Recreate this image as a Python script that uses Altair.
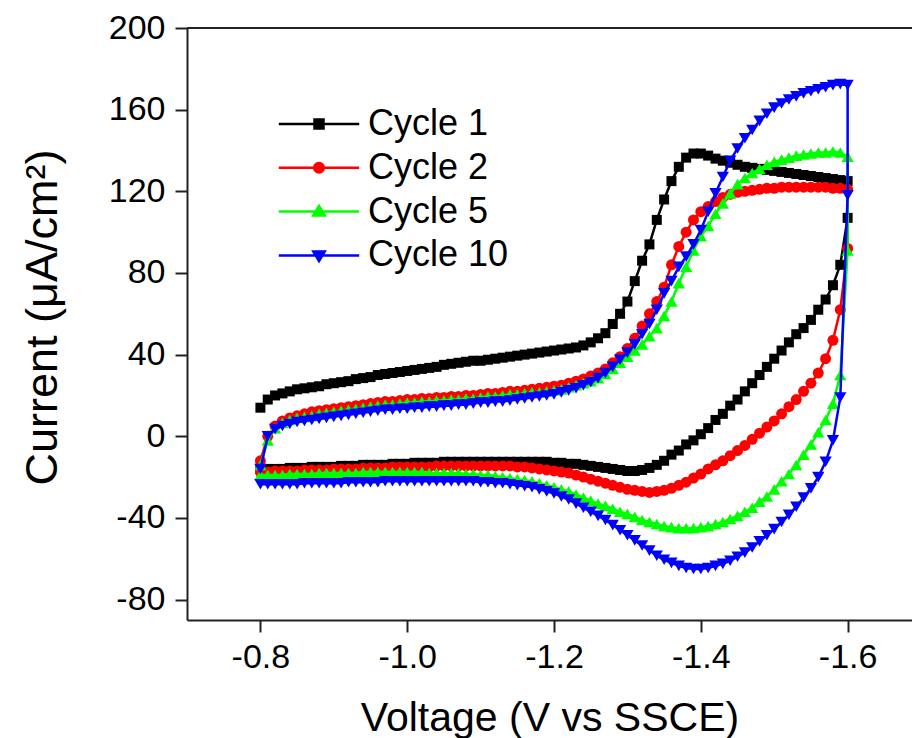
import altair as alt
import pandas as pd

# Voltage grid of the forward scan (V vs SSCE); the reverse scan runs back over it
V_FWD = [-0.80, -0.81, -0.82, -0.83, -0.84, -0.85, -0.86, -0.87, -0.88, -0.89,
         -0.90, -0.91, -0.92, -0.93, -0.94, -0.95, -0.96, -0.97, -0.98, -0.99,
         -1.00, -1.01, -1.02, -1.03, -1.04, -1.05, -1.06, -1.07, -1.08, -1.09,
         -1.10, -1.11, -1.12, -1.13, -1.14, -1.15, -1.16, -1.17, -1.18, -1.19,
         -1.20, -1.21, -1.22, -1.23, -1.24, -1.25, -1.26, -1.27, -1.28, -1.29,
         -1.30, -1.31, -1.32, -1.33, -1.34, -1.35, -1.36, -1.37, -1.38, -1.39,
         -1.40, -1.41, -1.42, -1.43, -1.44, -1.45, -1.46, -1.47, -1.48, -1.49,
         -1.50, -1.51, -1.52, -1.53, -1.54, -1.55, -1.56, -1.57, -1.58, -1.59, -1.60]
V_REV = V_FWD[::-1]

# Current density (uA/cm2)
C1_UP = [14, 18, 20, 21, 22, 23, 23.5, 24, 24.5, 25.5,
         26, 26.5, 27, 28, 28.5, 29, 30, 30.5, 31, 31.5,
         32, 32.5, 33, 33.5, 34, 35, 35.5, 36, 36.5, 37,
         37, 37.5, 38, 38.5, 39, 39.5, 40, 40.5, 41, 41.5,
         42, 42.5, 43, 43.5, 44.5, 46, 48, 50.5, 55, 60,
         66, 76, 86, 94, 106, 116, 125, 132, 136.5, 138.5,
         138.5, 137.5, 136, 135, 134, 133, 132, 131.5, 131, 130.5,
         130, 129.5, 129, 128.5, 128, 127.5, 127, 126.5, 126, 125.5, 125]
C1_DN = [107, 84, 74, 67, 62, 57, 53, 50, 46, 42,
         38, 34, 30, 26, 22, 18, 15, 11, 8, 4,
         1, -2, -4, -7, -9, -12, -14, -15.5, -16.5, -17,
         -17, -16.5, -16, -15.5, -15, -14.5, -14, -13.5, -13.5, -13,
         -13, -12.5, -12.5, -12.5, -12.5, -12.5, -12.5, -12.5, -12.5, -12.5,
         -12.5, -12.5, -12.5, -12.5, -12.5, -12.5, -13, -13, -13, -13,
         -13.5, -13.5, -13.5, -14, -14, -14, -14, -14.5, -14.5, -14.5,
         -15, -15, -15, -15, -15.5, -15.5, -15.5, -16, -16, -16, -16]

C2_UP = [-12, 0, 5, 7.5, 9, 10, 11, 12, 12.5, 13,
         13.5, 14, 14.5, 15, 15.5, 16, 16.5, 17, 17, 17.5,
         18, 18, 18.5, 18.5, 19, 19, 19.5, 19.5, 20, 20,
         20.5, 21, 21, 21.5, 22, 22, 22.5, 23, 23.5, 24,
         24.5, 25, 26, 27, 28, 29.5, 31, 33, 36, 39,
         43, 48, 54, 60, 66, 73, 84, 93, 100, 106,
         110, 112.5, 115, 117, 118.5, 119.5, 120, 120.5, 121, 121.5,
         121.5, 122, 122, 122, 122, 122, 122, 122, 121.5, 121.5, 121]
C2_DN = [92, 62, 47, 38, 31, 26, 22, 18, 14.5, 11,
         7.5, 4.5, 1.5, -1.5, -4.5, -7, -9.5, -12, -14, -16,
         -18.5, -20.5, -22.5, -24, -25.5, -26.5, -27, -27.5, -27, -26.5,
         -26, -25, -24, -23, -22, -21, -20, -19, -18, -17.5,
         -17, -16.5, -16, -15.5, -15, -15, -14.5, -14.5, -14.5, -14.5,
         -14.5, -14.5, -14.5, -14.5, -14.5, -14.5, -14.5, -15, -15, -15,
         -15, -15, -15, -15.5, -15.5, -15.5, -15.5, -16, -16, -16,
         -16, -16.5, -16.5, -16.5, -16.5, -17, -17, -17, -17, -17.5, -17.5]

C5_UP = [-14, -2, 4, 6.5, 8, 9, 9.5, 10, 11, 11.5,
         12, 12.5, 13, 13.5, 14, 14.5, 15, 15.5, 15.5, 16,
         16.5, 16.5, 17, 17, 17.5, 17.5, 18, 18, 18.5, 18.5,
         19, 19.5, 19.5, 20, 20.5, 20.5, 21, 21.5, 21.5, 22,
         22.5, 23, 24, 25, 26, 27, 28.5, 30.5, 33, 36,
         39, 42, 45, 49, 53, 59, 66, 75, 83, 91,
         98, 103, 109, 114, 119, 123.5, 126.5, 129, 131, 133,
         134.5, 135.5, 136.5, 137.5, 138, 138.5, 139, 139, 139.5, 139, 137]
C5_DN = [91, 30, 16, 8, 2, -4, -9, -14, -18.5, -22,
         -26, -29.5, -32, -35, -37, -39, -40.5, -42, -43, -44,
         -44.5, -45, -45, -45, -44.5, -44, -43, -42, -41, -39.5,
         -38, -37, -35.5, -34, -33, -31.5, -30, -28.5, -27, -26,
         -25, -24, -23, -22, -21.5, -21, -20.5, -20, -19.5, -19,
         -19, -18.5, -18.5, -18, -18, -18, -18, -18, -17.5, -17.5,
         -17.5, -17.5, -17.5, -17.5, -17.5, -17.5, -17.5, -18, -18, -18,
         -18, -18, -18, -18.5, -18.5, -18.5, -18.5, -19, -19, -19, -19]

C10_UP = [-16, 0, 3.5, 5, 6, 7, 7.5, 8, 8.5, 9,
          9.5, 10, 10.5, 11, 11.5, 12, 12.5, 13, 13, 13.5,
          13.5, 14, 14, 14.5, 14.5, 15, 15, 15.5, 15.5, 16,
          16.5, 16.5, 17, 17, 17.5, 18, 18.5, 19, 19.5, 20,
          20.5, 21.5, 22.5, 23.5, 25, 26.5, 28.5, 31, 34, 37.5,
          41, 45, 50, 55, 62, 70, 76, 83, 88, 94,
          101, 110, 119, 127, 135, 141, 146, 150, 154.5, 158,
          161, 163, 165, 166.5, 168, 169, 170, 171, 172, 172.5, 172]
C10_DN = [118, 19, -2, -12.5, -20, -25.5, -30, -34.5, -38.5, -42,
          -45.5, -48.5, -51.5, -54.5, -57, -59, -61, -62.5, -63.5, -64.5,
          -65, -65, -64.5, -63.5, -62, -60.5, -58.5, -56, -53.5, -51,
          -48.5, -46, -43.5, -41, -39, -37, -35, -33, -31, -29.5,
          -28, -27, -26, -25, -24.5, -24, -23.5, -23, -23, -22.5,
          -22.5, -22, -22, -22, -22, -22, -22, -22, -22, -22,
          -22, -22, -22, -22, -22.5, -22.5, -22.5, -22.5, -22.5, -23,
          -23, -23, -23, -23, -23, -23.5, -23.5, -23.5, -23.5, -23.5, -23.5]

SERIES = ["Cycle 1", "Cycle 2", "Cycle 5", "Cycle 10"]
UPS = [C1_UP, C2_UP, C5_UP, C10_UP]
DNS = [C1_DN, C2_DN, C5_DN, C10_DN]
COLORS = ["#000000", "#ff0000", "#00ff00", "#0000ff"]
SHAPES = ["square", "circle", "triangle-up", "triangle-down"]
SIZES = [100, 121, 150, 150]
# legend glyphs: a line segment with the series marker in its middle
LEGEND_PATHS = [
    "M-6.7,0H6.7M-0.75,-0.75H0.75V0.75H-0.75Z",
    "M-6.7,0H6.7M0.8,0A0.8,0.8,0,1,1,-0.8,0A0.8,0.8,0,1,1,0.8,0Z",
    "M-6.7,0H6.7M0,-0.95L0.95,0.65H-0.95Z",
    "M-6.7,0H6.7M0,0.95L0.95,-0.65H-0.95Z",
]

rows = []
for name, up, dn in zip(SERIES, UPS, DNS):
    k = 0
    for v, i in zip(V_FWD, up):
        rows.append({"series": name, "idx": k, "V": v, "I": i})
        k += 1
    for v, i in zip(V_REV, dn):
        rows.append({"series": name, "idx": k, "V": v, "I": i})
        k += 1
df = pd.DataFrame(rows)

W, H = 725, 592
FONT = "Liberation Sans"
MINUS = "\u2212"

xscale = alt.Scale(domain=[-1.6877, -0.70], reverse=True, nice=False, zero=False)
yscale = alt.Scale(domain=[-90, 200], nice=False, zero=False)

xenc = alt.X("V:Q", scale=xscale, title="Voltage (V vs SSCE)",
             axis=alt.Axis(values=[-0.8, -1.0, -1.2, -1.4, -1.6],
                           labelExpr=f"replace(format(datum.value, '.1f'), '{MINUS}', '-')",
                           labelFontSize=34, titleFontSize=41, labelPadding=8,
                           titlePadding=24, labelFlush=False,
                           titleFontWeight="normal", grid=False))
yenc = alt.Y("I:Q", scale=yscale, title="Current (\u03bcA/cm\u00b2)",
             axis=alt.Axis(values=[-80, -40, 0, 40, 80, 120, 160, 200],
                           labelExpr=f"replace(format(datum.value, 'd'), '{MINUS}', '-')",
                           labelFontSize=34, titleFontSize=45, labelPadding=10,
                           titlePadding=43, titleY=289, titleAlign="center",
                           titleFontWeight="normal", grid=False))

layers = []
for name, col, shp, sz in zip(SERIES, COLORS, SHAPES, SIZES):
    base = alt.Chart(df).transform_filter(alt.datum.series == name)
    layers.append(base.mark_line(color=col, strokeWidth=2.5, clip=True).encode(
        x=xenc, y=yenc, order="idx:Q"))
    layers.append(base.mark_point(filled=True, shape=shp, size=sz, color=col,
                                  opacity=1, clip=True).encode(x=xenc, y=yenc))

leg = alt.Legend(title=None, orient="none", legendX=114, legendY=78,
                 labelFont=FONT, labelFontSize=36, labelColor="black",
                 labelOffset=31, labelLimit=0, symbolSize=144,
                 symbolStrokeWidth=2.5, symbolOpacity=1, rowPadding=7.8)
leg_df = pd.DataFrame({"series": SERIES})
legend_layer = alt.Chart(leg_df).mark_point(filled=True, opacity=0).encode(
    fill=alt.Fill("series:N", scale=alt.Scale(domain=SERIES, range=COLORS), legend=leg),
    stroke=alt.Stroke("series:N", scale=alt.Scale(domain=SERIES, range=COLORS), legend=leg),
    shape=alt.Shape("series:N", scale=alt.Scale(domain=SERIES, range=LEGEND_PATHS), legend=leg),
)
layers.append(legend_layer)

top_border = alt.Chart(pd.DataFrame({"k": [0]})).mark_rule(color="#222222", strokeWidth=2).encode(
    x=alt.value(0), x2=alt.value(W), y=alt.value(0))
layers.append(top_border)

chart = alt.layer(*layers).properties(
    width=W, height=H,
    background="white",
    autosize=alt.AutoSizeParams(type="none"),
    padding={"left": 187, "top": 28, "right": 0, "bottom": 118},
).configure_view(stroke=None).configure_axis(
    grid=False, domainColor="#222222", domainWidth=2, tickColor="#222222",
    tickWidth=2, tickSize=12, labelColor="black", titleColor="black",
    labelFont=FONT, titleFont=FONT, titleFontWeight="normal",
)

chart.save("out.html", embed_options={"renderer": "svg", "actions": False})
